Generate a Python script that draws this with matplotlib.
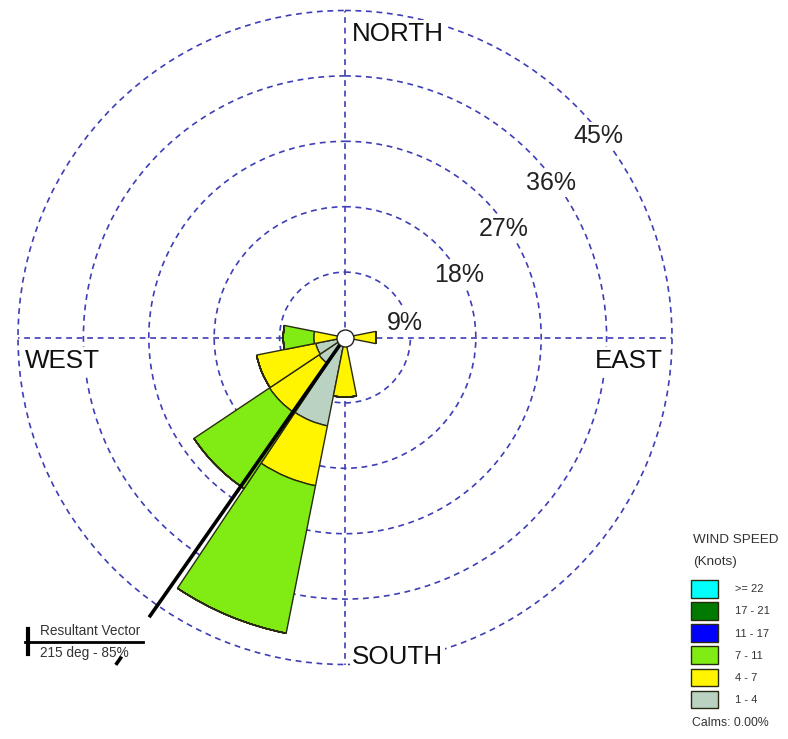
import numpy as np
import matplotlib
matplotlib.use('Agg')
import matplotlib.pyplot as plt
from matplotlib.lines import Line2D

plt.rcParams['font.family'] = ['Liberation Sans', 'DejaVu Sans']

# ---------------- data ----------------
directions = ['N', 'NNE', 'NE', 'ENE', 'E', 'ESE', 'SE', 'SSE',
              'S', 'SSW', 'SW', 'WSW', 'W', 'WNW', 'NW', 'NNW']
dir_deg = [0, 22.5, 45, 67.5, 90, 112.5, 135, 157.5,
           180, 202.5, 225, 247.5, 270, 292.5, 315, 337.5]
speed_bins = ['1 - 4', '4 - 7', '7 - 11', '11 - 17', '17 - 21', '>= 22']
bin_colors = ['#B9D2C1', '#FFF500', '#80EC14', '#0000FF', '#007A00', '#00FFFF']
freq_1_4 = [0, 0, 0, 0, 0, 0, 0, 0, 0, 12.4, 4.3, 4.1, 0, 0, 0, 0]
freq_4_7 = [0, 0, 0, 0, 4.3, 0, 0, 0, 8.2, 8.4, 8.2, 8.3, 4.3, 0, 0, 0]
freq_7_11 = [0, 0, 0, 0, 0, 0, 0, 0, 0, 20.7, 12.5, 0, 4.2, 0, 0, 0]
freq_11_17 = [0] * 16
freq_17_21 = [0] * 16
freq_22 = [0] * 16
radial_ticks = [9, 18, 27, 36, 45]
radial_labels = ['9%', '18%', '27%', '36%', '45%']
resultant_dir = 215
resultant_pct = 85
calms_pct = 0.00

# ---------------- figure ----------------
W, H = 788, 739
fig = plt.figure(figsize=(W / 100, H / 100), dpi=100)
cx, cy, R = 345, 337.5, 327
ax = fig.add_axes([(cx - R) / W, (H - cy - R) / H, 2 * R / W, 2 * R / H],
                  projection='polar')
ax.set_theta_zero_location('N')
ax.set_theta_direction(-1)
ax.set_rlim(0, 45)
ax.spines['polar'].set_visible(False)
ax.set_facecolor('none')

grid_color = '#3E3EB6'
ax.set_rgrids(radial_ticks, labels=[''] * len(radial_ticks))
ax.set_thetagrids([0, 90, 180, 270], labels=[''] * 4)
ax.grid(True, color=grid_color, linestyle=(0, (3.5, 2.8)), linewidth=1.2)
for gl in ax.yaxis.get_gridlines() + ax.xaxis.get_gridlines():
    gl.set_clip_on(False)
    gl.set_zorder(0.5)
ax.tick_params(length=0)

theta = np.radians(dir_deg)
width = np.radians(22.5)
series = [freq_1_4, freq_4_7, freq_7_11, freq_11_17, freq_17_21, freq_22]
bottom = np.zeros(len(dir_deg))
handles = []
for vals, col, lab in zip(series, bin_colors, speed_bins):
    vals = np.array(vals, dtype=float)
    b = ax.bar(theta, vals, width=width, bottom=bottom, color=col,
               edgecolor='#2A2A10', linewidth=1.0, label=lab, zorder=2)
    handles.append(b)
    bottom = bottom + vals

# calm circle
ax.scatter([0], [0], s=150, c='white', edgecolors='#222222', linewidths=1.0,
           zorder=6)

# resultant vector
tr = np.radians(resultant_dir)
ax.plot([tr, tr], [0, 47], color='black', lw=2.6, zorder=5, clip_on=False,
        solid_capstyle='butt')
ax.plot([tr, tr], [53.6, 55.0], color='black', lw=2.6, zorder=5, clip_on=False,
        solid_capstyle='butt')

def axc(px, py):
    return (px - (cx - R)) / (2 * R), 1 - (py - (cy - R)) / (2 * R)

white_box = dict(facecolor='white', edgecolor='none', pad=1.5)

# radial labels
lab_pos = [(405, 323), (459, 275), (504, 229), (551, 183), (598, 136)]
for (px, py), t in zip(lab_pos, radial_labels):
    x, y = axc(px, py)
    ax.text(x, y, t, transform=ax.transAxes, ha='center', va='center',
            fontsize=18, color='#222222', zorder=7, bbox=white_box)

# direction labels
dfs = 18.7
for t, px, py, ha in [('NORTH', 352, 41, 'left'), ('SOUTH', 352, 664, 'left'),
                      ('WEST', 25, 368, 'left'), ('EAST', 663, 368, 'right')]:
    x, y = axc(px, py)
    ax.text(x, y, t, transform=ax.transAxes, ha=ha, va='baseline',
            fontsize=dfs, color='#111111', zorder=7, bbox=white_box,
            clip_on=False)

# legend
fig.text(693 / W, 1 - 540 / H, 'WIND SPEED', fontsize=9.7, color='#333333',
         ha='left', va='center')
fig.text(693 / W, 1 - 562 / H, '(Knots)', fontsize=9.7, color='#333333',
         ha='left', va='center')
leg = ax.legend(handles=handles[::-1], labels=speed_bins[::-1],
                loc='upper left', bbox_to_anchor=(691 / W, 1 - 580 / H),
                bbox_transform=fig.transFigure, frameon=False,
                fontsize=8, borderpad=0, borderaxespad=0,
                handlelength=2.45, handleheight=2.06, handletextpad=1.5,
                labelspacing=0.41)
for t in leg.get_texts():
    t.set_color('#333333')

fig.text(692 / W, 1 - 723 / H, 'Calms: %.2f%%' % calms_pct, fontsize=8.8,
         color='#333333', ha='left', va='center')

# resultant vector key
fig.add_artist(Line2D([25 / W, 143 / W], [1 - 641.5 / H, 1 - 641.5 / H],
                      transform=fig.transFigure, color='black', lw=2.0))
fig.add_artist(Line2D([27.5 / W, 27.5 / W], [1 - 629 / H, 1 - 654 / H],
                      transform=fig.transFigure, color='black', lw=3.0))
fig.text(40 / W, 1 - 635 / H, 'Resultant Vector', fontsize=9.8,
         color='#333333', ha='left', va='baseline')
fig.text(40 / W, 1 - 657 / H, '%d deg - %d%%' % (resultant_dir, resultant_pct),
         fontsize=9.8, color='#333333', ha='left', va='baseline')

fig.savefig('out.png', dpi=100, facecolor='white')
